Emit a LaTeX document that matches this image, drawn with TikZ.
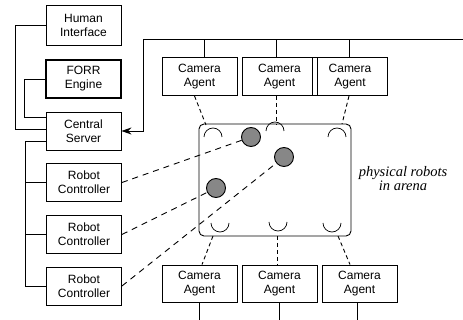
\documentclass[tikz,border=0pt]{standalone}
\usepackage{fontspec}
\setmainfont{Liberation Sans}
\newfontfamily\arenafont{Liberation Serif}
\usepackage{tikz}
\usetikzlibrary{arrows.meta}
\usetikzlibrary{shapes,positioning,calc}

\begin{document}
\begin{tikzpicture}[x=1pt, y=-1pt, line width=0.9pt,
		box/.style={draw, align=center, minimum width=75pt, minimum height=38pt, inner sep=1pt, font=\fontsize{12}{14}\selectfont},
		robot/.style={draw, circle, fill=black!47, minimum size=19pt, inner sep=0pt},
		camlink/.style={dash pattern=on 4pt off 3pt},
		botlink/.style={dash pattern=on 6pt off 5pt}]
			\useasboundingbox (0,0) rectangle (463,320);
			% left column
			\node [box, minimum height=40pt] (hi) at (83.5,25) {Human\\Interface};
			\node [box, line width=1.8pt] (forr) at (83.5,79) {FORR\\Engine};
			\node [box] (cs) at (83.5,131) {Central\\Server};
			\node [box] (rc1) at (84,182.5) {Robot\\Controller};
			\node [box] (rc2) at (84,234.5) {Robot\\Controller};
			\node [box] (rc3) at (84,286) {Robot\\Controller};
			\coordinate (busL) at (25,0);
			\draw (hi.west) -- ++(-30,0) |- ([yshift=-18pt]cs.north west);
			\draw (forr.west) -- ++(-21,0) |- ([yshift=-6pt]cs.north west);
			\draw ([yshift=-30pt]cs.north west) -| (busL |- rc3.west) -- (rc3.west);
			\foreach \r in {rc1,rc2}
				\draw (\r.west) -- (\r.west -| busL);
			
			% cameras
			\foreach \n/\x in {ct1/199.5, ct2/279.5, ct3/350}
				\node [box] (\n) at (\x,76.5) {Camera\\Agent};
			\foreach \n/\x in {cb1/199.5, cb2/279.5, cb3/359.5}
				\node [box, minimum height=37pt] (\n) at (\x,283.5) {Camera\\Agent};
			\coordinate (busT) at (463,39);
			\coordinate (bend) at (143,0);
			\draw [-{Stealth[length=10pt, width=7pt]}] (busT) -| (bend |- cs.east) -- (cs.east);
			\foreach \c/\s in {ct1/4.5, ct2/-3.5, ct3/-1}
				\draw ([xshift=\s pt]\c.north) -- ([xshift=\s pt]\c.north |- busT);
			\foreach \c/\s in {cb1/0, cb2/0, cb3/-2.5}
				\draw ([xshift=\s pt]\c.south) -- ++(0,18);
			
			% arena
			\node [draw, rounded corners=5pt, minimum width=152pt, minimum height=112pt] (arena) at (275,180) {};
			\node [font=\arenafont\itshape\fontsize{14.5}{14}\selectfont, align=center] (lbl) at (403,179) {physical robots\\in arena};
			\foreach \x/\y in {213/137, 275/131, 337/137}
				\draw [line width=0.7pt] (\x-9,\y) arc [start angle=180, end angle=360, radius=9];
			\foreach \x/\y in {220/223, 278/222, 332/223}
				\draw [line width=0.7pt] (\x-9,\y) arc [start angle=180, end angle=0, radius=9];
			\coordinate (a1) at (206,125);
			\coordinate (a2) at (276,124);
			\coordinate (a3) at (342,124);
			\coordinate (b1) at (213,236);
			\coordinate (b2) at (277,236);
			\coordinate (b3) at (338,236);
			\foreach \c/\a/\s in {ct1/a1/-5, ct2/a2/-3.5, ct3/a3/-1}
				\draw [camlink] ([xshift=\s pt]\c.south) -- (\a);
			\foreach \c/\b/\s in {cb1/b1/2.5, cb2/b2/-2.5, cb3/b3/-9.5}
				\draw [camlink] (\b) -- ([xshift=\s pt]\c.north);
			
			% robots
			\node [robot] (r1) at (251,137) {};
			\node [robot] (r2) at (284,157) {};
			\node [robot] (r3) at (216,188) {};
			\draw [botlink] (rc1.east) -- (r1);
			\draw [botlink] (rc2.east) -- (r3);
			\draw [botlink] (rc3.east) -- (r2);
			
		\end{tikzpicture}
\end{document}
